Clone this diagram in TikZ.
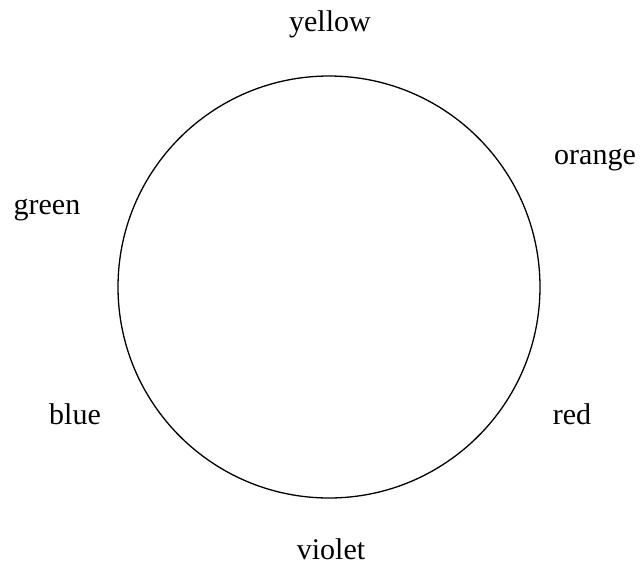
\documentclass[tikz,border=0pt]{standalone}
\usepackage{fontspec}
\setmainfont{Liberation Serif}
\begin{document}
\begin{tikzpicture}[x=1pt,y=-1pt,
  lbl/.style={font=\fontsize{30}{35}\selectfont, inner sep=0pt, anchor=base}]
\useasboundingbox (0,0) rectangle (643,571);
\node[draw, circle, line width=1.3pt, minimum size=422pt, inner sep=0pt] (wheel) at (329,287) {};
\node[lbl] (yellow) at (330,31) {yellow};
\node[lbl] (orange) at (595,164) {orange};
\node[lbl] (green) at (47,214) {green};
\node[lbl] (blue) at (75,424) {blue};
\node[lbl] (red) at (572,424) {red};
\node[lbl] (violet) at (331,559) {violet};
\end{tikzpicture}
\end{document}
